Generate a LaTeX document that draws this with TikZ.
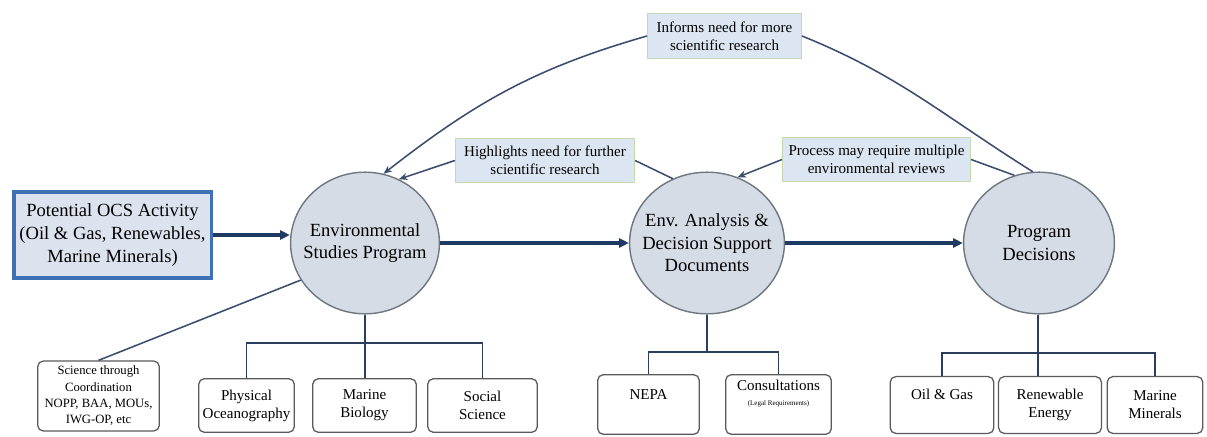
\documentclass[tikz,border=0pt]{standalone}
\usepackage{fontspec}
\setmainfont{Liberation Serif}
\usetikzlibrary{arrows.meta,shapes.geometric}

\definecolor{actfill}{HTML}{DCE3EF}
\definecolor{actdraw}{HTML}{3F70B5}
\definecolor{flowcol}{HTML}{1F3B64}
\definecolor{circfill}{HTML}{D6DCE5}
\definecolor{circdraw}{HTML}{6E7680}
\definecolor{notefill}{HTML}{DCE6F2}
\definecolor{notedraw}{HTML}{C3D9AE}
\definecolor{backcol}{HTML}{3A4D6E}
\definecolor{treecol}{HTML}{2B3F5C}
\definecolor{leafdraw}{HTML}{5A5A5A}

\begin{document}
\begin{tikzpicture}[x=0.025cm,y=0.025cm,
    main/.style={ellipse,draw=circdraw,fill=circfill,line width=1pt,inner sep=0pt,
        minimum height=3.54cm},
    maintext/.style={align=center,font=\fontsize{13.2}{16}\selectfont},
    note/.style={rectangle,draw=notedraw,fill=notefill,line width=1pt,inner sep=0pt,
        align=center,minimum height=1.09cm,font=\fontsize{10.7}{12.6}\selectfont},
    leaf/.style={rectangle,rounded corners=4pt,draw=leafdraw,fill=white,line width=0.9pt,
        inner sep=0pt,align=center,font=\fontsize{10.7}{12.8}\selectfont},
    flow/.style={draw=flowcol,line width=2.2pt,-{Triangle[length=7pt,width=6.5pt]}},
    back/.style={draw=backcol,line width=1.1pt},
    tree/.style={draw=treecol,line width=1.4pt}]

    \useasboundingbox (0,0) rectangle (1207,436);

    % activity and the three stages
    \node[rectangle,draw=actdraw,fill=actfill,line width=2.6pt,inner sep=0pt,align=center,
        minimum width=4.94cm,minimum height=2.16cm,font=\fontsize{13.2}{16.5}\selectfont]
        (act) at (112.5,201) {Potential OCS Activity\\(Oil \& Gas, Renewables,\\Marine Minerals)};
    \node[main,minimum width=3.72cm,label={[maintext]center:Environmental\\Studies Program}] (esp) at (365,193) {};
    \node[main,minimum width=3.87cm,label={[maintext]center:Env. Analysis \&\\Decision Support\\Documents}] (ead) at (707,193) {};
    \node[main,minimum width=3.77cm,label={[maintext]center:Program\\Decisions}] (pd) at (1039,193) {};

    \draw[flow] (act.east) -- (act.east -| esp.west);
    \draw[flow] (esp) -- (ead);
    \draw[flow] (ead) -- (pd);

    % feedback notes
    \node[note,minimum width=3.84cm,minimum height=1.12cm] (inf) at (724.5,400) {Informs need for more\\scientific research};
    \node[note,minimum width=4.47cm] (hl) at (545,275.5) {Highlights need for further\\scientific research};
    \node[note,minimum width=4.69cm] (pr) at (876.5,276.5) {Process may require multiple\\environmental reviews};

    \draw[back] (pd.95) to[out=148,in=-22] (inf.east);
    \draw[back,-{Stealth[length=6pt,width=5pt]}] (inf.west) to[out=196,in=38] (esp.75);
    \draw[back] (pd.110) -- (pr.east);
    \draw[back,-{Stealth[length=6pt,width=5pt]}] (pr.west) -- (ead.65);
    \draw[back] (ead.118) -- (hl.east);
    \draw[back,-{Stealth[length=6pt,width=5pt]}] (hl.west) -- (esp.62);

    % research areas
    \node[leaf,minimum width=3.04cm,minimum height=1.75cm,font=\fontsize{9}{11.6}\selectfont]
        (sci) at (98.5,40) {Science through\\Coordination\\NOPP, BAA, MOUs,\\IWG-OP, etc};
    \node[leaf,minimum width=2.39cm,minimum height=1.34cm] (po) at (246.5,30.5) {Physical\\Oceanography};
    \node[leaf,minimum width=2.59cm,minimum height=1.34cm] (mb) at (364.5,30.5) {Marine\\Biology};
    \node[leaf,minimum width=2.74cm,minimum height=1.34cm] (ss) at (482.5,30.5) {Social\\Science};

    \draw[back] (sci.north) -- (esp.210);
    \coordinate (b1) at (365,93);
    \draw[tree] (esp.south) -- (b1);
    \draw[tree] (po.north) |- (b1) -| (ss.north);
    \draw[tree] (b1) -- (b1 |- mb.north);

    % analysis documents
    \node[leaf,minimum width=2.54cm,minimum height=1.49cm] (nepa) at (648.5,31.5) {NEPA\\[2pt]\mbox{}};
    \node[leaf,minimum width=2.64cm,minimum height=1.49cm] (con) at (778.5,31.5)
        {Consultations\\[-2pt]{\fontsize{5}{6}\selectfont (Legal Requirements)}\\[4pt]\mbox{}};

    \coordinate (b2) at (707,84);
    \draw[tree] (ead.south) -- (b2);
    \draw[tree] (nepa.north) |- (b2) -| (con.north);

    % program decisions
    \node[leaf,minimum width=2.59cm,minimum height=1.42cm] (og) at (942,31) {Oil \& Gas\\[2pt]\mbox{}};
    \node[leaf,minimum width=2.57cm,minimum height=1.42cm] (re) at (1050,31) {Renewable\\Energy};
    \node[leaf,minimum width=2.39cm,minimum height=1.42cm] (mm) at (1155,31) {Marine\\Minerals};

    \coordinate (b3) at (1038,83);
    \draw[tree] (pd.south -| b3) -- (b3 |- re.north);
    \draw[tree] (og.north) |- (b3) -| (mm.north);

\end{tikzpicture}
\end{document}
